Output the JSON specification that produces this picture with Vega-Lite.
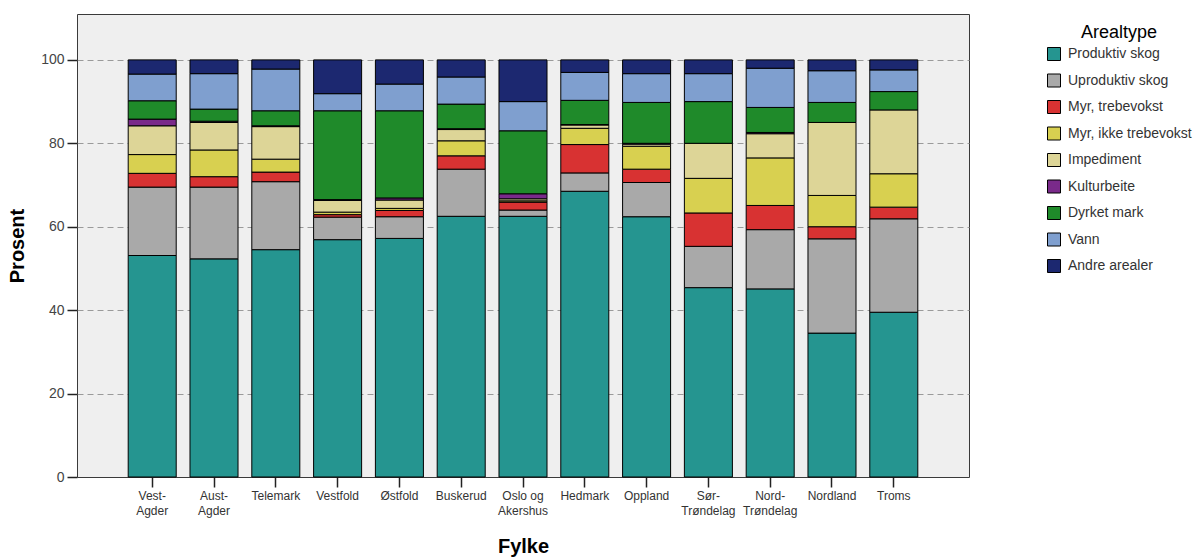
{
  "$schema": "https://vega.github.io/schema/vega-lite/v6.json",
  "width": 892,
  "height": 463,
  "autosize": {"type": "none"},
  "padding": {"left": 77, "top": 14, "right": 229, "bottom": 82},
  "background": "white",
  "config": {
    "font": "Liberation Sans",
    "view": {"fill": "#efefef", "stroke": "#3a3a3a", "strokeWidth": 1}
  },
  "data": {
    "values": [
      {"Fylke": "Vest-Agder", "Arealtype": "Produktiv skog", "Prosent": 53.1},
      {"Fylke": "Vest-Agder", "Arealtype": "Uproduktiv skog", "Prosent": 16.4},
      {"Fylke": "Vest-Agder", "Arealtype": "Myr, trebevokst", "Prosent": 3.3},
      {"Fylke": "Vest-Agder", "Arealtype": "Myr, ikke trebevokst", "Prosent": 4.5},
      {"Fylke": "Vest-Agder", "Arealtype": "Impediment", "Prosent": 6.9},
      {"Fylke": "Vest-Agder", "Arealtype": "Kulturbeite", "Prosent": 1.6},
      {"Fylke": "Vest-Agder", "Arealtype": "Dyrket mark", "Prosent": 4.4},
      {"Fylke": "Vest-Agder", "Arealtype": "Vann", "Prosent": 6.4},
      {"Fylke": "Vest-Agder", "Arealtype": "Andre arealer", "Prosent": 3.4},

      {"Fylke": "Aust-Agder", "Arealtype": "Produktiv skog", "Prosent": 52.3},
      {"Fylke": "Aust-Agder", "Arealtype": "Uproduktiv skog", "Prosent": 17.2},
      {"Fylke": "Aust-Agder", "Arealtype": "Myr, trebevokst", "Prosent": 2.5},
      {"Fylke": "Aust-Agder", "Arealtype": "Myr, ikke trebevokst", "Prosent": 6.4},
      {"Fylke": "Aust-Agder", "Arealtype": "Impediment", "Prosent": 6.6},
      {"Fylke": "Aust-Agder", "Arealtype": "Kulturbeite", "Prosent": 0.3},
      {"Fylke": "Aust-Agder", "Arealtype": "Dyrket mark", "Prosent": 2.9},
      {"Fylke": "Aust-Agder", "Arealtype": "Vann", "Prosent": 8.5},
      {"Fylke": "Aust-Agder", "Arealtype": "Andre arealer", "Prosent": 3.3},

      {"Fylke": "Telemark", "Arealtype": "Produktiv skog", "Prosent": 54.5},
      {"Fylke": "Telemark", "Arealtype": "Uproduktiv skog", "Prosent": 16.3},
      {"Fylke": "Telemark", "Arealtype": "Myr, trebevokst", "Prosent": 2.3},
      {"Fylke": "Telemark", "Arealtype": "Myr, ikke trebevokst", "Prosent": 3.1},
      {"Fylke": "Telemark", "Arealtype": "Impediment", "Prosent": 7.8},
      {"Fylke": "Telemark", "Arealtype": "Kulturbeite", "Prosent": 0.2},
      {"Fylke": "Telemark", "Arealtype": "Dyrket mark", "Prosent": 3.6},
      {"Fylke": "Telemark", "Arealtype": "Vann", "Prosent": 10.0},
      {"Fylke": "Telemark", "Arealtype": "Andre arealer", "Prosent": 2.2},

      {"Fylke": "Vestfold", "Arealtype": "Produktiv skog", "Prosent": 56.9},
      {"Fylke": "Vestfold", "Arealtype": "Uproduktiv skog", "Prosent": 5.4},
      {"Fylke": "Vestfold", "Arealtype": "Myr, trebevokst", "Prosent": 0.6},
      {"Fylke": "Vestfold", "Arealtype": "Myr, ikke trebevokst", "Prosent": 0.6},
      {"Fylke": "Vestfold", "Arealtype": "Impediment", "Prosent": 2.8},
      {"Fylke": "Vestfold", "Arealtype": "Kulturbeite", "Prosent": 0.2},
      {"Fylke": "Vestfold", "Arealtype": "Dyrket mark", "Prosent": 21.3},
      {"Fylke": "Vestfold", "Arealtype": "Vann", "Prosent": 4.1},
      {"Fylke": "Vestfold", "Arealtype": "Andre arealer", "Prosent": 8.1},

      {"Fylke": "Østfold", "Arealtype": "Produktiv skog", "Prosent": 57.2},
      {"Fylke": "Østfold", "Arealtype": "Uproduktiv skog", "Prosent": 5.2},
      {"Fylke": "Østfold", "Arealtype": "Myr, trebevokst", "Prosent": 1.5},
      {"Fylke": "Østfold", "Arealtype": "Myr, ikke trebevokst", "Prosent": 0.5},
      {"Fylke": "Østfold", "Arealtype": "Impediment", "Prosent": 2.0},
      {"Fylke": "Østfold", "Arealtype": "Kulturbeite", "Prosent": 0.5},
      {"Fylke": "Østfold", "Arealtype": "Dyrket mark", "Prosent": 20.9},
      {"Fylke": "Østfold", "Arealtype": "Vann", "Prosent": 6.4},
      {"Fylke": "Østfold", "Arealtype": "Andre arealer", "Prosent": 5.8},

      {"Fylke": "Buskerud", "Arealtype": "Produktiv skog", "Prosent": 62.5},
      {"Fylke": "Buskerud", "Arealtype": "Uproduktiv skog", "Prosent": 11.3},
      {"Fylke": "Buskerud", "Arealtype": "Myr, trebevokst", "Prosent": 3.2},
      {"Fylke": "Buskerud", "Arealtype": "Myr, ikke trebevokst", "Prosent": 3.6},
      {"Fylke": "Buskerud", "Arealtype": "Impediment", "Prosent": 2.7},
      {"Fylke": "Buskerud", "Arealtype": "Kulturbeite", "Prosent": 0.2},
      {"Fylke": "Buskerud", "Arealtype": "Dyrket mark", "Prosent": 5.9},
      {"Fylke": "Buskerud", "Arealtype": "Vann", "Prosent": 6.5},
      {"Fylke": "Buskerud", "Arealtype": "Andre arealer", "Prosent": 4.1},

      {"Fylke": "Oslo og Akershus", "Arealtype": "Produktiv skog", "Prosent": 62.5},
      {"Fylke": "Oslo og Akershus", "Arealtype": "Uproduktiv skog", "Prosent": 1.5},
      {"Fylke": "Oslo og Akershus", "Arealtype": "Myr, trebevokst", "Prosent": 1.9},
      {"Fylke": "Oslo og Akershus", "Arealtype": "Myr, ikke trebevokst", "Prosent": 0.3},
      {"Fylke": "Oslo og Akershus", "Arealtype": "Impediment", "Prosent": 0.5},
      {"Fylke": "Oslo og Akershus", "Arealtype": "Kulturbeite", "Prosent": 1.2},
      {"Fylke": "Oslo og Akershus", "Arealtype": "Dyrket mark", "Prosent": 15.1},
      {"Fylke": "Oslo og Akershus", "Arealtype": "Vann", "Prosent": 7.0},
      {"Fylke": "Oslo og Akershus", "Arealtype": "Andre arealer", "Prosent": 10.0},

      {"Fylke": "Hedmark", "Arealtype": "Produktiv skog", "Prosent": 68.5},
      {"Fylke": "Hedmark", "Arealtype": "Uproduktiv skog", "Prosent": 4.4},
      {"Fylke": "Hedmark", "Arealtype": "Myr, trebevokst", "Prosent": 6.8},
      {"Fylke": "Hedmark", "Arealtype": "Myr, ikke trebevokst", "Prosent": 3.9},
      {"Fylke": "Hedmark", "Arealtype": "Impediment", "Prosent": 0.8},
      {"Fylke": "Hedmark", "Arealtype": "Kulturbeite", "Prosent": 0.1},
      {"Fylke": "Hedmark", "Arealtype": "Dyrket mark", "Prosent": 5.8},
      {"Fylke": "Hedmark", "Arealtype": "Vann", "Prosent": 6.7},
      {"Fylke": "Hedmark", "Arealtype": "Andre arealer", "Prosent": 3.0},

      {"Fylke": "Oppland", "Arealtype": "Produktiv skog", "Prosent": 62.4},
      {"Fylke": "Oppland", "Arealtype": "Uproduktiv skog", "Prosent": 8.2},
      {"Fylke": "Oppland", "Arealtype": "Myr, trebevokst", "Prosent": 3.2},
      {"Fylke": "Oppland", "Arealtype": "Myr, ikke trebevokst", "Prosent": 5.5},
      {"Fylke": "Oppland", "Arealtype": "Impediment", "Prosent": 0.5},
      {"Fylke": "Oppland", "Arealtype": "Kulturbeite", "Prosent": 0.2},
      {"Fylke": "Oppland", "Arealtype": "Dyrket mark", "Prosent": 9.8},
      {"Fylke": "Oppland", "Arealtype": "Vann", "Prosent": 6.9},
      {"Fylke": "Oppland", "Arealtype": "Andre arealer", "Prosent": 3.3},

      {"Fylke": "Sør-Trøndelag", "Arealtype": "Produktiv skog", "Prosent": 45.4},
      {"Fylke": "Sør-Trøndelag", "Arealtype": "Uproduktiv skog", "Prosent": 9.9},
      {"Fylke": "Sør-Trøndelag", "Arealtype": "Myr, trebevokst", "Prosent": 8.0},
      {"Fylke": "Sør-Trøndelag", "Arealtype": "Myr, ikke trebevokst", "Prosent": 8.3},
      {"Fylke": "Sør-Trøndelag", "Arealtype": "Impediment", "Prosent": 8.4},
      {"Fylke": "Sør-Trøndelag", "Arealtype": "Dyrket mark", "Prosent": 10.0},
      {"Fylke": "Sør-Trøndelag", "Arealtype": "Vann", "Prosent": 6.7},
      {"Fylke": "Sør-Trøndelag", "Arealtype": "Andre arealer", "Prosent": 3.3},

      {"Fylke": "Nord-Trøndelag", "Arealtype": "Produktiv skog", "Prosent": 45.1},
      {"Fylke": "Nord-Trøndelag", "Arealtype": "Uproduktiv skog", "Prosent": 14.2},
      {"Fylke": "Nord-Trøndelag", "Arealtype": "Myr, trebevokst", "Prosent": 5.8},
      {"Fylke": "Nord-Trøndelag", "Arealtype": "Myr, ikke trebevokst", "Prosent": 11.4},
      {"Fylke": "Nord-Trøndelag", "Arealtype": "Impediment", "Prosent": 5.8},
      {"Fylke": "Nord-Trøndelag", "Arealtype": "Kulturbeite", "Prosent": 0.3},
      {"Fylke": "Nord-Trøndelag", "Arealtype": "Dyrket mark", "Prosent": 6.0},
      {"Fylke": "Nord-Trøndelag", "Arealtype": "Vann", "Prosent": 9.4},
      {"Fylke": "Nord-Trøndelag", "Arealtype": "Andre arealer", "Prosent": 2.0},

      {"Fylke": "Nordland", "Arealtype": "Produktiv skog", "Prosent": 34.5},
      {"Fylke": "Nordland", "Arealtype": "Uproduktiv skog", "Prosent": 22.6},
      {"Fylke": "Nordland", "Arealtype": "Myr, trebevokst", "Prosent": 2.9},
      {"Fylke": "Nordland", "Arealtype": "Myr, ikke trebevokst", "Prosent": 7.5},
      {"Fylke": "Nordland", "Arealtype": "Impediment", "Prosent": 17.5},
      {"Fylke": "Nordland", "Arealtype": "Dyrket mark", "Prosent": 4.8},
      {"Fylke": "Nordland", "Arealtype": "Vann", "Prosent": 7.6},
      {"Fylke": "Nordland", "Arealtype": "Andre arealer", "Prosent": 2.6},

      {"Fylke": "Troms", "Arealtype": "Produktiv skog", "Prosent": 39.5},
      {"Fylke": "Troms", "Arealtype": "Uproduktiv skog", "Prosent": 22.4},
      {"Fylke": "Troms", "Arealtype": "Myr, trebevokst", "Prosent": 2.8},
      {"Fylke": "Troms", "Arealtype": "Myr, ikke trebevokst", "Prosent": 8.0},
      {"Fylke": "Troms", "Arealtype": "Impediment", "Prosent": 15.3},
      {"Fylke": "Troms", "Arealtype": "Dyrket mark", "Prosent": 4.4},
      {"Fylke": "Troms", "Arealtype": "Vann", "Prosent": 5.2},
      {"Fylke": "Troms", "Arealtype": "Andre arealer", "Prosent": 2.4}
    ]
  },
  "transform": [
    {"calculate": "indexof(['Produktiv skog', 'Uproduktiv skog', 'Myr, trebevokst', 'Myr, ikke trebevokst', 'Impediment', 'Kulturbeite', 'Dyrket mark', 'Vann', 'Andre arealer'], datum.Arealtype)", "as": "stackrank"}
  ],
  "mark": {"type": "bar", "stroke": "black", "strokeWidth": 1},
  "encoding": {
    "x": {
      "field": "Fylke",
      "type": "nominal",
      "sort": ["Vest-Agder", "Aust-Agder", "Telemark", "Vestfold", "Østfold", "Buskerud", "Oslo og Akershus", "Hedmark", "Oppland", "Sør-Trøndelag", "Nord-Trøndelag", "Nordland", "Troms"],
      "scale": {"paddingInner": 0.223, "paddingOuter": 0.8285},
      "axis": {
        "title": "Fylke",
        "titleFontSize": 20,
        "titleFontWeight": "bold",
        "titleColor": "black",
        "titleBaseline": "alphabetic",
        "titleY": 75,
        "domain": false,
        "tickSize": 10,
        "tickColor": "#222",
        "tickWidth": 1.5,
        "labelAngle": 0,
        "labelFontSize": 12,
        "labelColor": "#333",
        "labelLineHeight": 15,
        "labelPadding": 3,
        "labelBaseline": "top",
        "labelExpr": "indexof(datum.label, '-') > 0 ? [substring(datum.label, 0, indexof(datum.label, '-') + 1), substring(datum.label, indexof(datum.label, '-') + 1)] : (datum.label == 'Oslo og Akershus' ? ['Oslo og', 'Akershus'] : datum.label)"
      }
    },
    "y": {
      "field": "Prosent",
      "type": "quantitative",
      "stack": "zero",
      "scale": {"domain": [0, 111], "nice": false},
      "axis": {
        "title": "Prosent",
        "titleFontSize": 20,
        "titleFontWeight": "bold",
        "titleColor": "black",
        "titleAngle": 270,
        "titleX": -60,
        "titleY": 231.5,
        "titleAlign": "center",
        "titleBaseline": "middle",
        "values": [0, 20, 40, 60, 80, 100],
        "domain": false,
        "grid": true,
        "gridDash": [6, 4],
        "gridColor": "#9a9a9a",
        "gridOpacity": {"condition": {"test": "datum.value == 0", "value": 0}, "value": 1},
        "tickSize": 10,
        "tickColor": "#222",
        "tickWidth": 1.5,
        "labelFontSize": 14,
        "labelColor": "#444",
        "labelPadding": 3
      }
    },
    "order": {"field": "stackrank", "type": "quantitative", "sort": "ascending"},
    "color": {
      "field": "Arealtype",
      "type": "nominal",
      "scale": {
        "domain": ["Produktiv skog", "Uproduktiv skog", "Myr, trebevokst", "Myr, ikke trebevokst", "Impediment", "Kulturbeite", "Dyrket mark", "Vann", "Andre arealer"],
        "range": ["#259590", "#a9a9a9", "#d83232", "#d8d050", "#ddd597", "#7a2a8a", "#1f8a2a", "#7f9fcf", "#1c2870"]
      },
      "legend": {
        "orient": "none",
        "legendX": 970,
        "legendY": 10,
        "padding": 0,
        "title": "Arealtype",
        "titleFontSize": 18,
        "titleFontWeight": "normal",
        "titleColor": "black",
        "titleAnchor": "middle",
        "titlePadding": 5,
        "symbolType": "square",
        "symbolSize": 169,
        "symbolStrokeColor": "black",
        "symbolStrokeWidth": 1,
        "symbolOpacity": 1,
        "labelFontSize": 14,
        "labelColor": "#333",
        "labelOffset": 7,
        "rowPadding": 8.5,
        "labelLimit": 300
      }
    }
  }
}
